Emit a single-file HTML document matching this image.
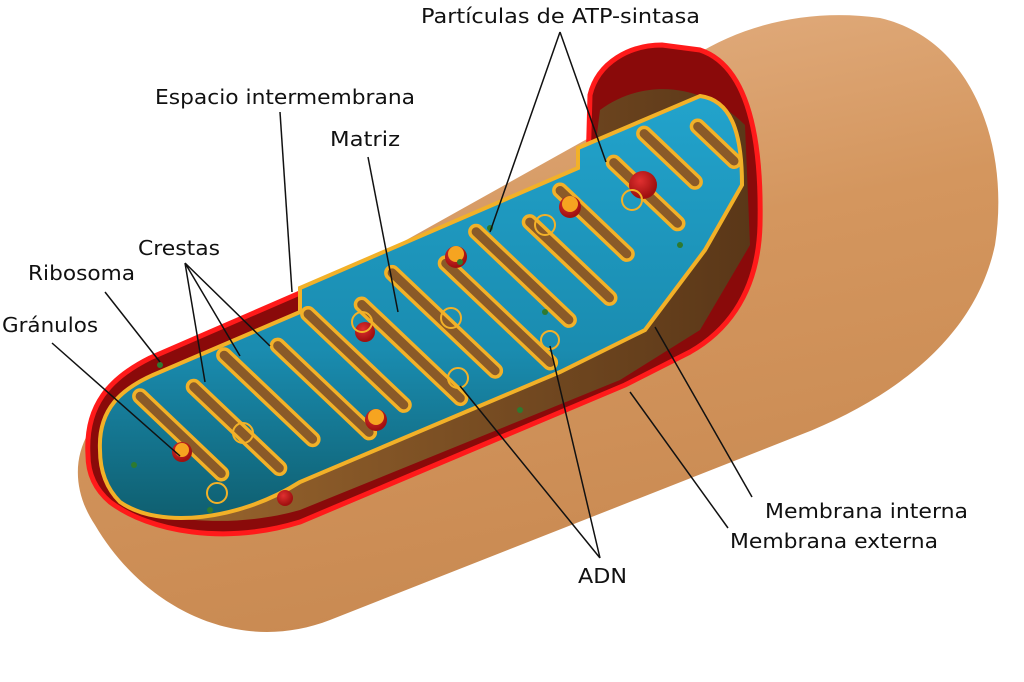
<!DOCTYPE html>
<html><head><meta charset="utf-8"><style>
html,body{margin:0;padding:0;background:#fff;}
svg{display:block}
text{font-family:"DejaVu Sans","Liberation Sans",sans-serif;font-size:20px;fill:#111}
</style></head><body>
<svg id="s" width="1024" height="682" viewBox="0 0 1024 682" xmlns="http://www.w3.org/2000/svg">
<defs>
<linearGradient id="body" x1="0" y1="0" x2="0.3" y2="1">
<stop offset="0" stop-color="#e6b58a"/><stop offset="0.5" stop-color="#d4965e"/><stop offset="1" stop-color="#c98a52"/>
</linearGradient>
<linearGradient id="blue" x1="0" y1="0" x2="0" y2="1">
<stop offset="0" stop-color="#22a3cc"/><stop offset="0.6" stop-color="#1a8cb0"/><stop offset="1" stop-color="#0f5f70"/>
</linearGradient>
<linearGradient id="brown" x1="0" y1="0" x2="1" y2="0">
<stop offset="0" stop-color="#a06a30"/><stop offset="1" stop-color="#5a3718"/>
</linearGradient>
<radialGradient id="gran" cx="0.4" cy="0.35" r="0.6"><stop offset="0" stop-color="#e03030"/><stop offset="1" stop-color="#a01010"/></radialGradient>
<clipPath id="mc"><path d="M100,450 C98,410 120,388 160,372 L300,312 L300,288 L578,168 L578,148 L700,96 C730,100 742,130 742,185 L705,250 L645,330 L560,372 L300,482 C240,520 160,530 120,502 C106,488 100,470 100,450 Z"/></clipPath>
</defs>
<path d="M95,525 C65,480 75,430 120,400 L630,115 C690,35 790,5 880,18 C975,40 1010,150 995,245 C975,340 890,400 800,435 L330,620 C240,655 145,610 95,525 Z" fill="url(#body)"/>
<path d="M88,455 C85,405 110,378 150,358 L588,168 L590,95 C598,62 630,45 662,45 L700,50 C745,65 762,130 760,225 C758,300 720,335 690,352 L625,385 L300,522 C225,545 150,532 110,502 C96,490 88,475 88,455 Z" fill="#8a0a0a" stroke="#ff1a1a" stroke-width="5"/>
<path d="M110,470 C105,420 130,395 170,378 L590,190 L600,110 C640,80 700,80 745,125 L750,245 L700,330 L620,380 L300,510 C230,530 150,520 120,500 Z" fill="url(#brown)"/>
<path d="M100,450 C98,410 120,388 160,372 L300,312 L300,288 L578,168 L578,148 L700,96 C730,100 742,130 742,185 L705,250 L645,330 L560,372 L300,482 C240,520 160,530 120,502 C106,488 100,470 100,450 Z" fill="url(#blue)"/>
<g id="cr" clip-path="url(#mc)" stroke-linecap="round" fill="none"></g>
<path d="M100,450 C98,410 120,388 160,372 L300,312 L300,288 L578,168 L578,148 L700,96 C730,100 742,130 742,185 L705,250 L645,330 L560,372 L300,482 C240,520 160,530 120,502 C106,488 100,470 100,450 Z" fill="none" stroke="#f2b128" stroke-width="4"/>
<g fill="url(#gran)">
<circle cx="182" cy="452" r="10"/><circle cx="376" cy="420" r="11"/><circle cx="456" cy="257" r="11"/><circle cx="570" cy="207" r="11"/><circle cx="643" cy="185" r="14"/><circle cx="365" cy="332" r="10"/><circle cx="285" cy="498" r="8"/>
</g>
<g fill="#f6a420"><circle cx="182" cy="450" r="7"/><circle cx="376" cy="417" r="8"/><circle cx="456" cy="254" r="8"/><circle cx="570" cy="204" r="8"/></g>
<g fill="none" stroke="#f2b128" stroke-width="2">
<circle cx="217" cy="493" r="10"/><circle cx="243" cy="433" r="10"/><circle cx="362" cy="322" r="10"/><circle cx="451" cy="318" r="10"/><circle cx="458" cy="378" r="10"/><circle cx="550" cy="340" r="9"/><circle cx="545" cy="225" r="10"/><circle cx="632" cy="200" r="10"/>
</g>
<g fill="#2e7a30"><circle cx="160" cy="365" r="3"/><circle cx="134" cy="465" r="3"/><circle cx="210" cy="510" r="3"/><circle cx="490" cy="228" r="3"/><circle cx="460" cy="262" r="3"/><circle cx="545" cy="312" r="3"/><circle cx="520" cy="410" r="3"/><circle cx="680" cy="245" r="3"/></g>
<g stroke="#111" stroke-width="1.5" fill="none">
<path d="M560,32 L490,232 M560,32 L606,162"/>
<path d="M280,112 L292,292"/>
<path d="M368,157 L398,312"/>
<path d="M185,263 L205,382 M185,263 L240,356 M185,263 L270,346"/>
<path d="M105,292 L160,362"/>
<path d="M52,343 L180,456"/>
<path d="M752,497 L655,327"/>
<path d="M728,528 L630,392"/>
<path d="M600,558 L460,386 M600,558 L550,346"/>
</g>
<text x="421" y="23" textLength="279" lengthAdjust="spacingAndGlyphs">Partículas de ATP-sintasa</text>
<text x="155" y="104" textLength="260" lengthAdjust="spacingAndGlyphs">Espacio intermembrana</text>
<text x="330" y="146" textLength="70" lengthAdjust="spacingAndGlyphs">Matriz</text>
<text x="138" y="255" textLength="82" lengthAdjust="spacingAndGlyphs">Crestas</text>
<text x="28" y="280" textLength="107" lengthAdjust="spacingAndGlyphs">Ribosoma</text>
<text x="2" y="332" textLength="96" lengthAdjust="spacingAndGlyphs">Gránulos</text>
<text x="765" y="518" textLength="203" lengthAdjust="spacingAndGlyphs">Membrana interna</text>
<text x="730" y="548" textLength="208" lengthAdjust="spacingAndGlyphs">Membrana externa</text>
<text x="578" y="583" textLength="49" lengthAdjust="spacingAndGlyphs">ADN</text>
</svg>
<script>
(function(){
var g=document.getElementById('cr'),ns='http://www.w3.org/2000/svg',out='';
function top(x){return x<578?372-0.49*(x-160):148-0.43*(x-578);}
function bot(x){return x<560?586-0.38*x:372-1.1*(x-560);}
var dx=1,dy=0.95,n=Math.sqrt(dx*dx+dy*dy);dx/=n;dy/=n;
var segs=[];
for(var k=0;k<15;k++){
 var xt=130+42*k,yt=top(xt);
 // march along dir until below bottom
 var t=0,x,y;
 for(t=0;t<400;t+=2){x=xt+dx*t;y=yt+dy*t;if(y>bot(x))break;}
 var L=t;
 var a,b;
 if(k%2==0){a=14;b=L-30;}else{a=30;b=L-14;}
 if(b-a<10)continue;
 segs.push([xt+dx*a,yt+dy*a,xt+dx*b,yt+dy*b]);
}
var s1='',s2='';
segs.forEach(function(s){var d='M'+s[0].toFixed(1)+','+s[1].toFixed(1)+' L'+s[2].toFixed(1)+','+s[3].toFixed(1);
s1+='<path d="'+d+'" stroke="#f2b128" stroke-width="16"/>';s2+='<path d="'+d+'" stroke="#8a5a28" stroke-width="9"/>';});
g.innerHTML=s1+s2;
})();
</script>
</body></html>
